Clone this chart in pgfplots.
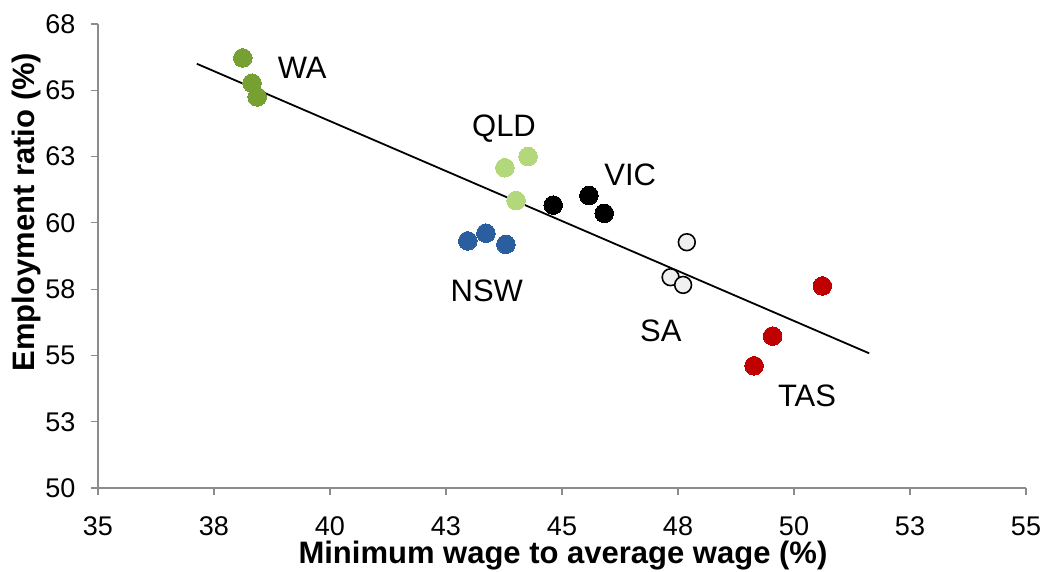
\documentclass[border=0pt]{standalone}
\usepackage{pgfplots}
\pgfplotsset{compat=1.18}
\usepackage{fontspec}
\setmainfont{Liberation Sans}
\definecolor{wa}{HTML}{77A033}
\definecolor{qld}{HTML}{B3D77B}
\definecolor{nsw}{HTML}{2A5E9E}
\definecolor{tas}{HTML}{C00000}
\definecolor{sa}{HTML}{F0F0F0}
\definecolor{axgray}{HTML}{8C8C8C}
\begin{document}
\begin{tikzpicture}
\begin{axis}[name=ax, at={(0,0)}, anchor=south west,
  scale only axis, width=928bp, height=464bp,
  xmin=35, xmax=55, ymin=50, ymax=67.5,
  xtick={35,37.5,...,55}, xticklabels={35,38,40,43,45,48,50,53,55},
  ytick={50,52.5,...,67.5}, yticklabels={50,53,55,58,60,63,65,68},
  axis x line*=bottom, axis y line*=left,
  axis line style={-, color=axgray, line width=1.2bp},
  tick align=outside, major tick length=7bp,
  tick style={color=axgray, line width=1.2bp},
  ticklabel style={font=\fontsize{27bp}{32bp}\selectfont, text=black},
  xticklabel style={yshift=-18bp},
  yticklabel style={xshift=-12bp},
  clip=false,
]
\addplot[black, line width=1.8bp] coordinates {(37.13,66.0) (51.62,55.08)};
\addplot[wa, only marks, mark=*, mark size=9.3bp, mark options={fill=wa, draw=wa, line width=0pt}] coordinates {(38.12,66.22) (38.32,65.27) (38.43,64.75)};
\addplot[qld, only marks, mark=*, mark size=9.3bp, mark options={fill=qld, draw=qld, line width=0pt}] coordinates {(43.77,62.08) (44.27,62.50) (44.01,60.84)};
\addplot[black, only marks, mark=*, mark size=9.3bp, mark options={fill=black, draw=black, line width=0pt}] coordinates {(44.81,60.67) (45.58,61.03) (45.91,60.36)};
\addplot[nsw, only marks, mark=*, mark size=9.3bp, mark options={fill=nsw, draw=nsw, line width=0pt}] coordinates {(42.97,59.32) (43.36,59.61) (43.79,59.19)};
\addplot[black, only marks, mark=*, mark size=8.4bp, mark options={fill=sa, draw=black, line width=1.6bp}] coordinates {(47.69,59.27) (47.34,57.95) (47.61,57.66)};
\addplot[tas, only marks, mark=*, mark size=9.3bp, mark options={fill=tas, draw=tas, line width=0pt}] coordinates {(50.61,57.62) (49.54,55.73) (49.14,54.61)};
\begin{scope}[every node/.style={font=\fontsize{31bp}{36bp}\selectfont, anchor=base, inner sep=0pt}]
\node at (axis cs:39.40,65.46) {WA};
\node at (axis cs:43.75,63.24) {QLD};
\node at (axis cs:46.47,61.39) {VIC};
\node at (axis cs:43.38,57.05) {NSW};
\node at (axis cs:47.13,55.54) {SA};
\node at (axis cs:50.28,53.09) {TAS};
\end{scope}
\node[font=\bfseries\fontsize{31bp}{36bp}\selectfont, inner sep=0pt] at (axis cs:45.02,47.44) {Minimum wage to average wage (\%)};
\node[font=\bfseries\fontsize{31bp}{36bp}\selectfont, inner sep=0pt, rotate=90] at (axis cs:33.448,60.41) {Employment ratio (\%)};
\end{axis}
\pgfresetboundingbox
\path[use as bounding box] ([shift={(-98bp,-84bp)}]ax.south west) rectangle ++(1046bp,572bp);
\end{tikzpicture}
\end{document}
